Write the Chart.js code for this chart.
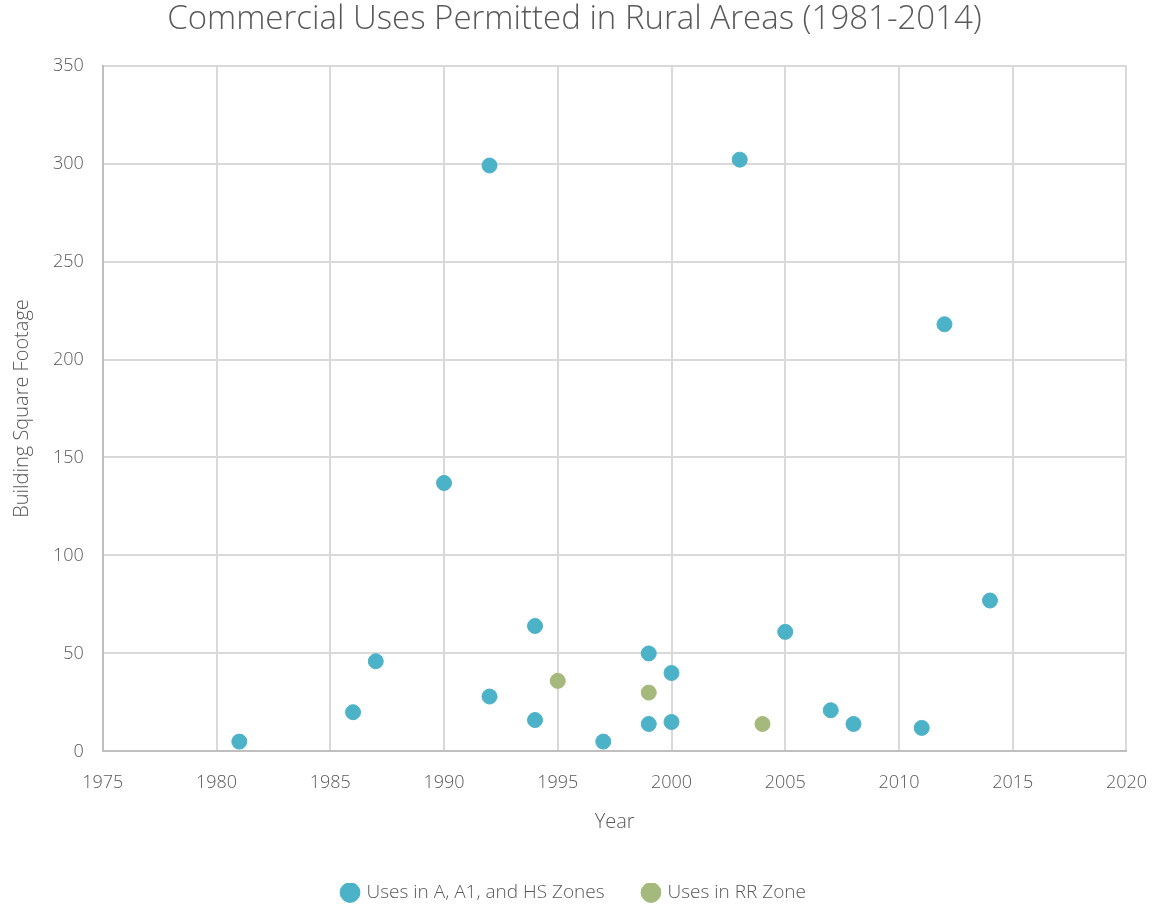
<!DOCTYPE html>
<html>
<head>
<meta charset="utf-8">
<script src="https://cdn.jsdelivr.net/npm/chart.js@4"></script>
<style>
  body { margin: 0; background: #fff; }
  #wrap { width: 1153px; height: 907px; }
</style>
</head>
<body>
<div id="wrap"><canvas id="chart"></canvas></div>
<script>
// A, A1, HS zones
const yearsA = [1981, 1986, 1987, 1990, 1992, 1992, 1994, 1994, 1997, 1999, 1999, 2000, 2000, 2003, 2005, 2007, 2008, 2011, 2012, 2014];
const sqftA = [5, 20, 46, 137, 299, 28, 64, 16, 5, 50, 14, 40, 15, 302, 61, 21, 14, 12, 218, 77];
// RR zone
const yearsRR = [1995, 1999, 2004];
const sqftRR = [36, 30, 14];

const toPts = (xs, ys) => xs.map((x, i) => ({ x: x, y: ys[i] }));

Chart.defaults.font.family = '"Open Sans", "Liberation Sans", sans-serif';
Chart.defaults.font.weight = 300;
Chart.defaults.color = '#595959';

const ctx = document.getElementById('chart').getContext('2d');
const chart = new Chart(ctx, {
    type: 'scatter',
    data: {
        datasets: [{
            label: 'Uses in A, A1, and HS Zones',
            data: toPts(yearsA, sqftA),
            backgroundColor: '#4BB2C8',
            borderColor: '#4BB2C8',
            pointRadius: 7.5,
            pointHoverRadius: 7.5
        }, {
            label: 'Uses in RR Zone',
            data: toPts(yearsRR, sqftRR),
            backgroundColor: '#A4B97B',
            borderColor: '#A4B97B',
            pointRadius: 7.5,
            pointHoverRadius: 7.5
        }]
    },
    options: {
        responsive: true,
        maintainAspectRatio: false,
        animation: false,
        layout: { padding: { left: 10, right: 14, top: 0, bottom: -5 } },
        scales: {
            x: {
                min: 1975,
                max: 2020,
                ticks: { stepSize: 5, font: { size: 18 }, padding: 6, callback: v => String(v) },
                grid: { color: '#d9d9d9', lineWidth: 2, drawTicks: true, tickLength: 15, tickColor: 'rgba(0,0,0,0)' },
                border: { color: '#bfbfbf', width: 2 },
                title: { display: true, text: 'Year', font: { size: 20 }, padding: { top: 10, bottom: 49 } }
            },
            y: {
                min: 0,
                max: 350,
                ticks: { stepSize: 50, font: { size: 18 }, padding: 19 },
                grid: { color: '#d9d9d9', lineWidth: 2, drawTicks: false },
                border: { color: '#bfbfbf', width: 2 },
                title: { display: true, text: 'Building Square Footage', font: { size: 20 }, padding: { top: 0, bottom: 0 } }
            }
        },
        plugins: {
            title: {
                display: true,
                text: 'Commercial Uses Permitted in Rural Areas (1981-2014)',
                font: { size: 33, weight: 300 },
                padding: { top: 0, bottom: 26 }
            },
            legend: {
                position: 'bottom',
                labels: {
                    usePointStyle: true,
                    pointStyle: 'circle',
                    boxWidth: 14,
                    boxHeight: 14,
                    padding: 0,
                    font: { size: 19 },
                    generateLabels: function (c) {
                        const items = Chart.defaults.plugins.legend.labels.generateLabels(c);
                        // spacing between the two entries
                        items[0].text = items[0].text + '        ';
                        return items;
                    }
                }
            },
            tooltip: { enabled: false }
        }
    }
});
</script>
</body>
</html>
